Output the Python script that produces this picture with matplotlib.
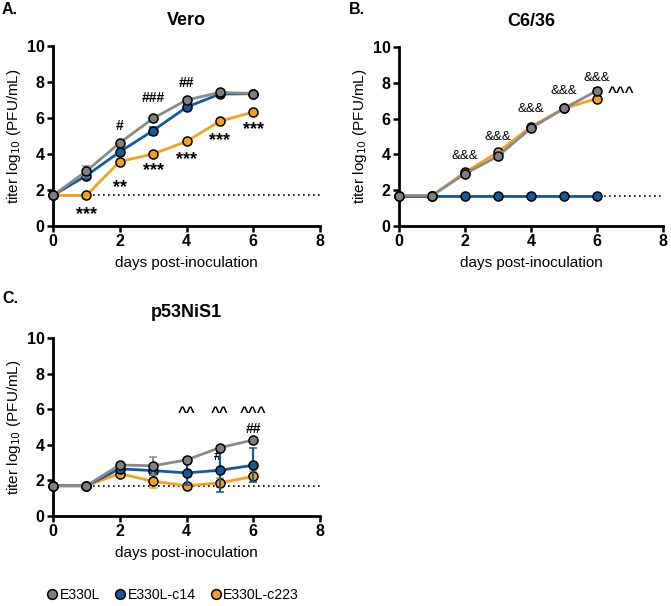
import matplotlib.pyplot as plt
from matplotlib.lines import Line2D

plt.rcParams['font.family'] = ['Liberation Sans', 'DejaVu Sans']

days = [0, 1, 2, 3, 4, 5, 6]
lod = 1.7

# Vero
vero_wt = [1.7, 3.05, 4.62, 5.98, 7.0, 7.42, 7.36]
vero_wt_err = [0, 0.3, 0.1, 0.1, 0.1, 0.1, 0.1]
vero_c14 = [1.7, 2.8, 4.12, 5.3, 6.6, 7.33, 7.35]
vero_c14_err = [0, 0.1, 0.1, 0.22, 0.1, 0.1, 0.05]
vero_c223 = [1.7, 1.7, 3.58, 4.0, 4.7, 5.82, 6.33]
vero_c223_err = [0, 0, 0.1, 0.05, 0.05, 0.05, 0.05]

# C6/36
c636_wt = [1.7, 1.7, 2.92, 3.9, 5.47, 6.57, 7.56]
c636_wt_err = [0, 0, 0.1, 0.1, 0.1, 0.05, 0.15]
c636_c14 = [1.7, 1.7, 1.7, 1.7, 1.7, 1.7, 1.7]
c636_c14_err = [0, 0, 0, 0, 0, 0, 0]
c636_c223 = [1.7, 1.7, 3.0, 4.12, 5.55, 6.57, 7.12]
c636_c223_err = [0, 0, 0.05, 0.05, 0.05, 0.05, 0.05]

# p53NiS1
p53_wt = [1.7, 1.7, 2.87, 2.82, 3.15, 3.84, 4.27]
p53_wt_err = [0, 0, 0.1, 0.5, 0.1, 0.1, 0.1]
p53_c14 = [1.7, 1.7, 2.65, 2.55, 2.42, 2.57, 2.85]
p53_c14_err = [0, 0, 0.1, 0.15, 0.7, 1.2, 0.95]
p53_c223 = [1.7, 1.7, 2.38, 1.95, 1.7, 1.86, 2.22]
p53_c223_err = [0, 0, 0.05, 0.35, 0.05, 0.25, 0.3]

# significance marks
vero_star_x = [1, 2, 3, 4, 5, 6]
vero_star_y = [0.95, 2.45, 3.4, 4.0, 5.05, 5.65]
vero_star_txt = ['***', '**', '***', '***', '***', '***']
vero_hash_x = [2, 3, 4]
vero_hash_y = [5.55, 7.1, 7.95]
vero_hash_txt = ['#', '###', '##']
c636_amp_x = [2, 3, 4, 5, 6]
c636_amp_y = [3.9, 4.97, 6.55, 7.55, 8.25]
p53_caret_x = [4, 5, 6]
p53_caret_txt = ['^^', '^^', '^^^']

labels = ['E330L', 'E330L-c14', 'E330L-c223']
colors = ['#8a8a8a', '#145a9a', '#f7a01e']
mcolors = ['#7f7f7f', '#145a9a', '#f7a01e']

fig = plt.figure(figsize=(6.71, 6.06), dpi=100)
W, H = 671, 606


def make_ax(x0, x1, y0, y1):
    # pixel box -> figure fraction
    return fig.add_axes([x0 / W, 1 - y1 / H, (x1 - x0) / W, (y1 - y0) / H])


def draw(ax, series, title):
    ax.axhline(lod, color='black', ls=(0, (1, 2)), lw=1.2, zorder=1)
    for i in [2, 1, 0]:
        y, e = series[i]
        ax.errorbar(days, y, yerr=e, color=colors[i], lw=2, capsize=3, capthick=1.5,
                    elinewidth=1.5, marker='o', ms=6.5, mfc=mcolors[i], mec='black',
                    mew=1.1, zorder=3 + (2 - i), clip_on=False)
    ax.set_xlim(0, 8)
    ax.set_ylim(0, 10)
    ax.set_xticks([0, 2, 4, 6, 8])
    ax.set_yticks([0, 2, 4, 6, 8, 10])
    for s in ['top', 'right']:
        ax.spines[s].set_visible(False)
    for s in ['left', 'bottom']:
        ax.spines[s].set_linewidth(2)
    ax.tick_params(width=1.8, length=4, labelsize=11.5, pad=2)
    for t in ax.get_xticklabels() + ax.get_yticklabels():
        t.set_fontweight('bold')
    ax.set_xlabel('days post-inoculation', fontsize=11, labelpad=5)
    ax.set_ylabel('titer log$_{10}$ (PFU/mL)', fontsize=11, labelpad=3)
    ax.set_title(title, fontsize=13, fontweight='bold', pad=15)


axA = make_ax(53, 320, 46, 226)
draw(axA, [(vero_wt, vero_wt_err), (vero_c14, vero_c14_err), (vero_c223, vero_c223_err)], 'Vero')
axB = make_ax(399, 663, 47, 226)
draw(axB, [(c636_wt, c636_wt_err), (c636_c14, c636_c14_err), (c636_c223, c636_c223_err)], 'C6/36')
axC = make_ax(53, 320, 338, 516)
draw(axC, [(p53_wt, p53_wt_err), (p53_c14, p53_c14_err), (p53_c223, p53_c223_err)], 'p53NiS1')

star_kw = dict(ha='center', va='center', fontsize=13, fontweight='bold')
ann_kw = dict(ha='center', va='center', fontsize=10, fontweight='bold')
for x, y, s in zip(vero_star_x, vero_star_y, vero_star_txt):
    axA.text(x, y - 0.3, s, **star_kw)
for x, y, s in zip(vero_hash_x, vero_hash_y, vero_hash_txt):
    axA.text(x, y, s, **ann_kw)

for x, y in zip(c636_amp_x, c636_amp_y):
    axB.text(x, y, '&&&', ha='center', va='center', fontsize=9.5)
axB.text(6.72, 7.45, '^^^', ha='center', va='center', fontsize=11, fontweight='bold')

for x, s in zip(p53_caret_x, p53_caret_txt):
    axC.text(x, 5.8, s, ha='center', va='center', fontsize=11, fontweight='bold')
axC.text(6, 4.9, '##', **ann_kw)
axC.text(4.93, 3.35, '#', **ann_kw)

# panel letters
fig.text(2 / W, 1 - 9 / H, 'A.', fontsize=11.5, fontweight='bold', va='center')
fig.text(349 / W, 1 - 9 / H, 'B.', fontsize=11.5, fontweight='bold', va='center')
fig.text(2 / W, 1 - 298 / H, 'C.', fontsize=11.5, fontweight='bold', va='center')

# legend
handles = [Line2D([], [], ls='none', marker='o', ms=7, mfc=mcolors[i], mec='black', mew=1.1)
           for i in range(3)]
fig.legend(handles, labels, loc='center left', bbox_to_anchor=(32 / W, 1 - 595 / H),
           ncol=3, frameon=False, fontsize=10.2, handletextpad=0.05, columnspacing=0.9,
           handlelength=1.0)

fig.savefig('out.png', dpi=100)
